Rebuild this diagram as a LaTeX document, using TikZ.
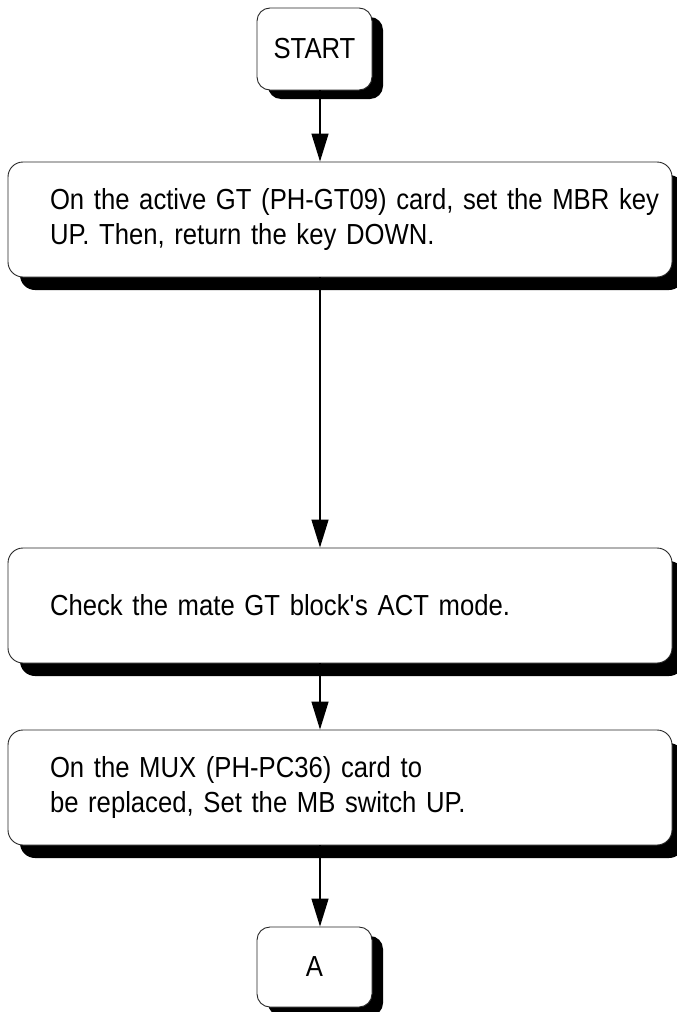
\documentclass[tikz,border=0pt]{standalone}
\usepackage{fontspec}
\setmainfont{Liberation Sans}[FakeStretch=0.885]
\usetikzlibrary{positioning,arrows.meta,shadows}

\begin{document}
\begin{tikzpicture}[x=1pt, y=-1pt, font=\fontsize{29}{35}\selectfont,
  term/.style={draw=black!85, line width=0.9pt, rounded corners=13pt, fill=white, minimum width=115pt, minimum height=82pt,
    drop shadow={shadow xshift=11pt, shadow yshift=-9pt, opacity=1, fill=black}},
  stepbox/.style={draw=black!85, line width=0.9pt, rounded corners=15pt, fill=white, minimum width=664pt, minimum height=115pt,
    text width=580pt, inner xsep=42pt, align=left,
    drop shadow={shadow xshift=12pt, shadow yshift=-13pt, opacity=1, fill=black}},
  flow/.style={line width=1.3pt, -{Triangle[length=28pt, width=17pt]}}]
\useasboundingbox (0,0) rectangle (677,1012);
\node[term] (start) at (314.5,49) {START};
\node[stepbox] (s1) at (340,219.5) {\mbox{On the active GT (PH-GT09) card, set the MBR key}\\UP. Then, return the key DOWN.};
\node[stepbox] (s2) at (340,605.5) {Check the mate GT block\textquotesingle s ACT mode.};
\node[stepbox] (s3) at (340,787.5) {On the MUX (PH-PC36) card to\\be replaced, Set the MB switch UP.};
\node[term, minimum height=80pt] (a) at (314.5,967) {A};
\coordinate (col) at (320,0);
\draw[flow] (start.south -| col) -- (s1.north -| col);
\draw[flow] (s1.south -| col) -- (s2.north -| col);
\draw[flow] (s2.south -| col) -- (s3.north -| col);
\draw[flow] (s3.south -| col) -- (a.north -| col);
\end{tikzpicture}
\end{document}
